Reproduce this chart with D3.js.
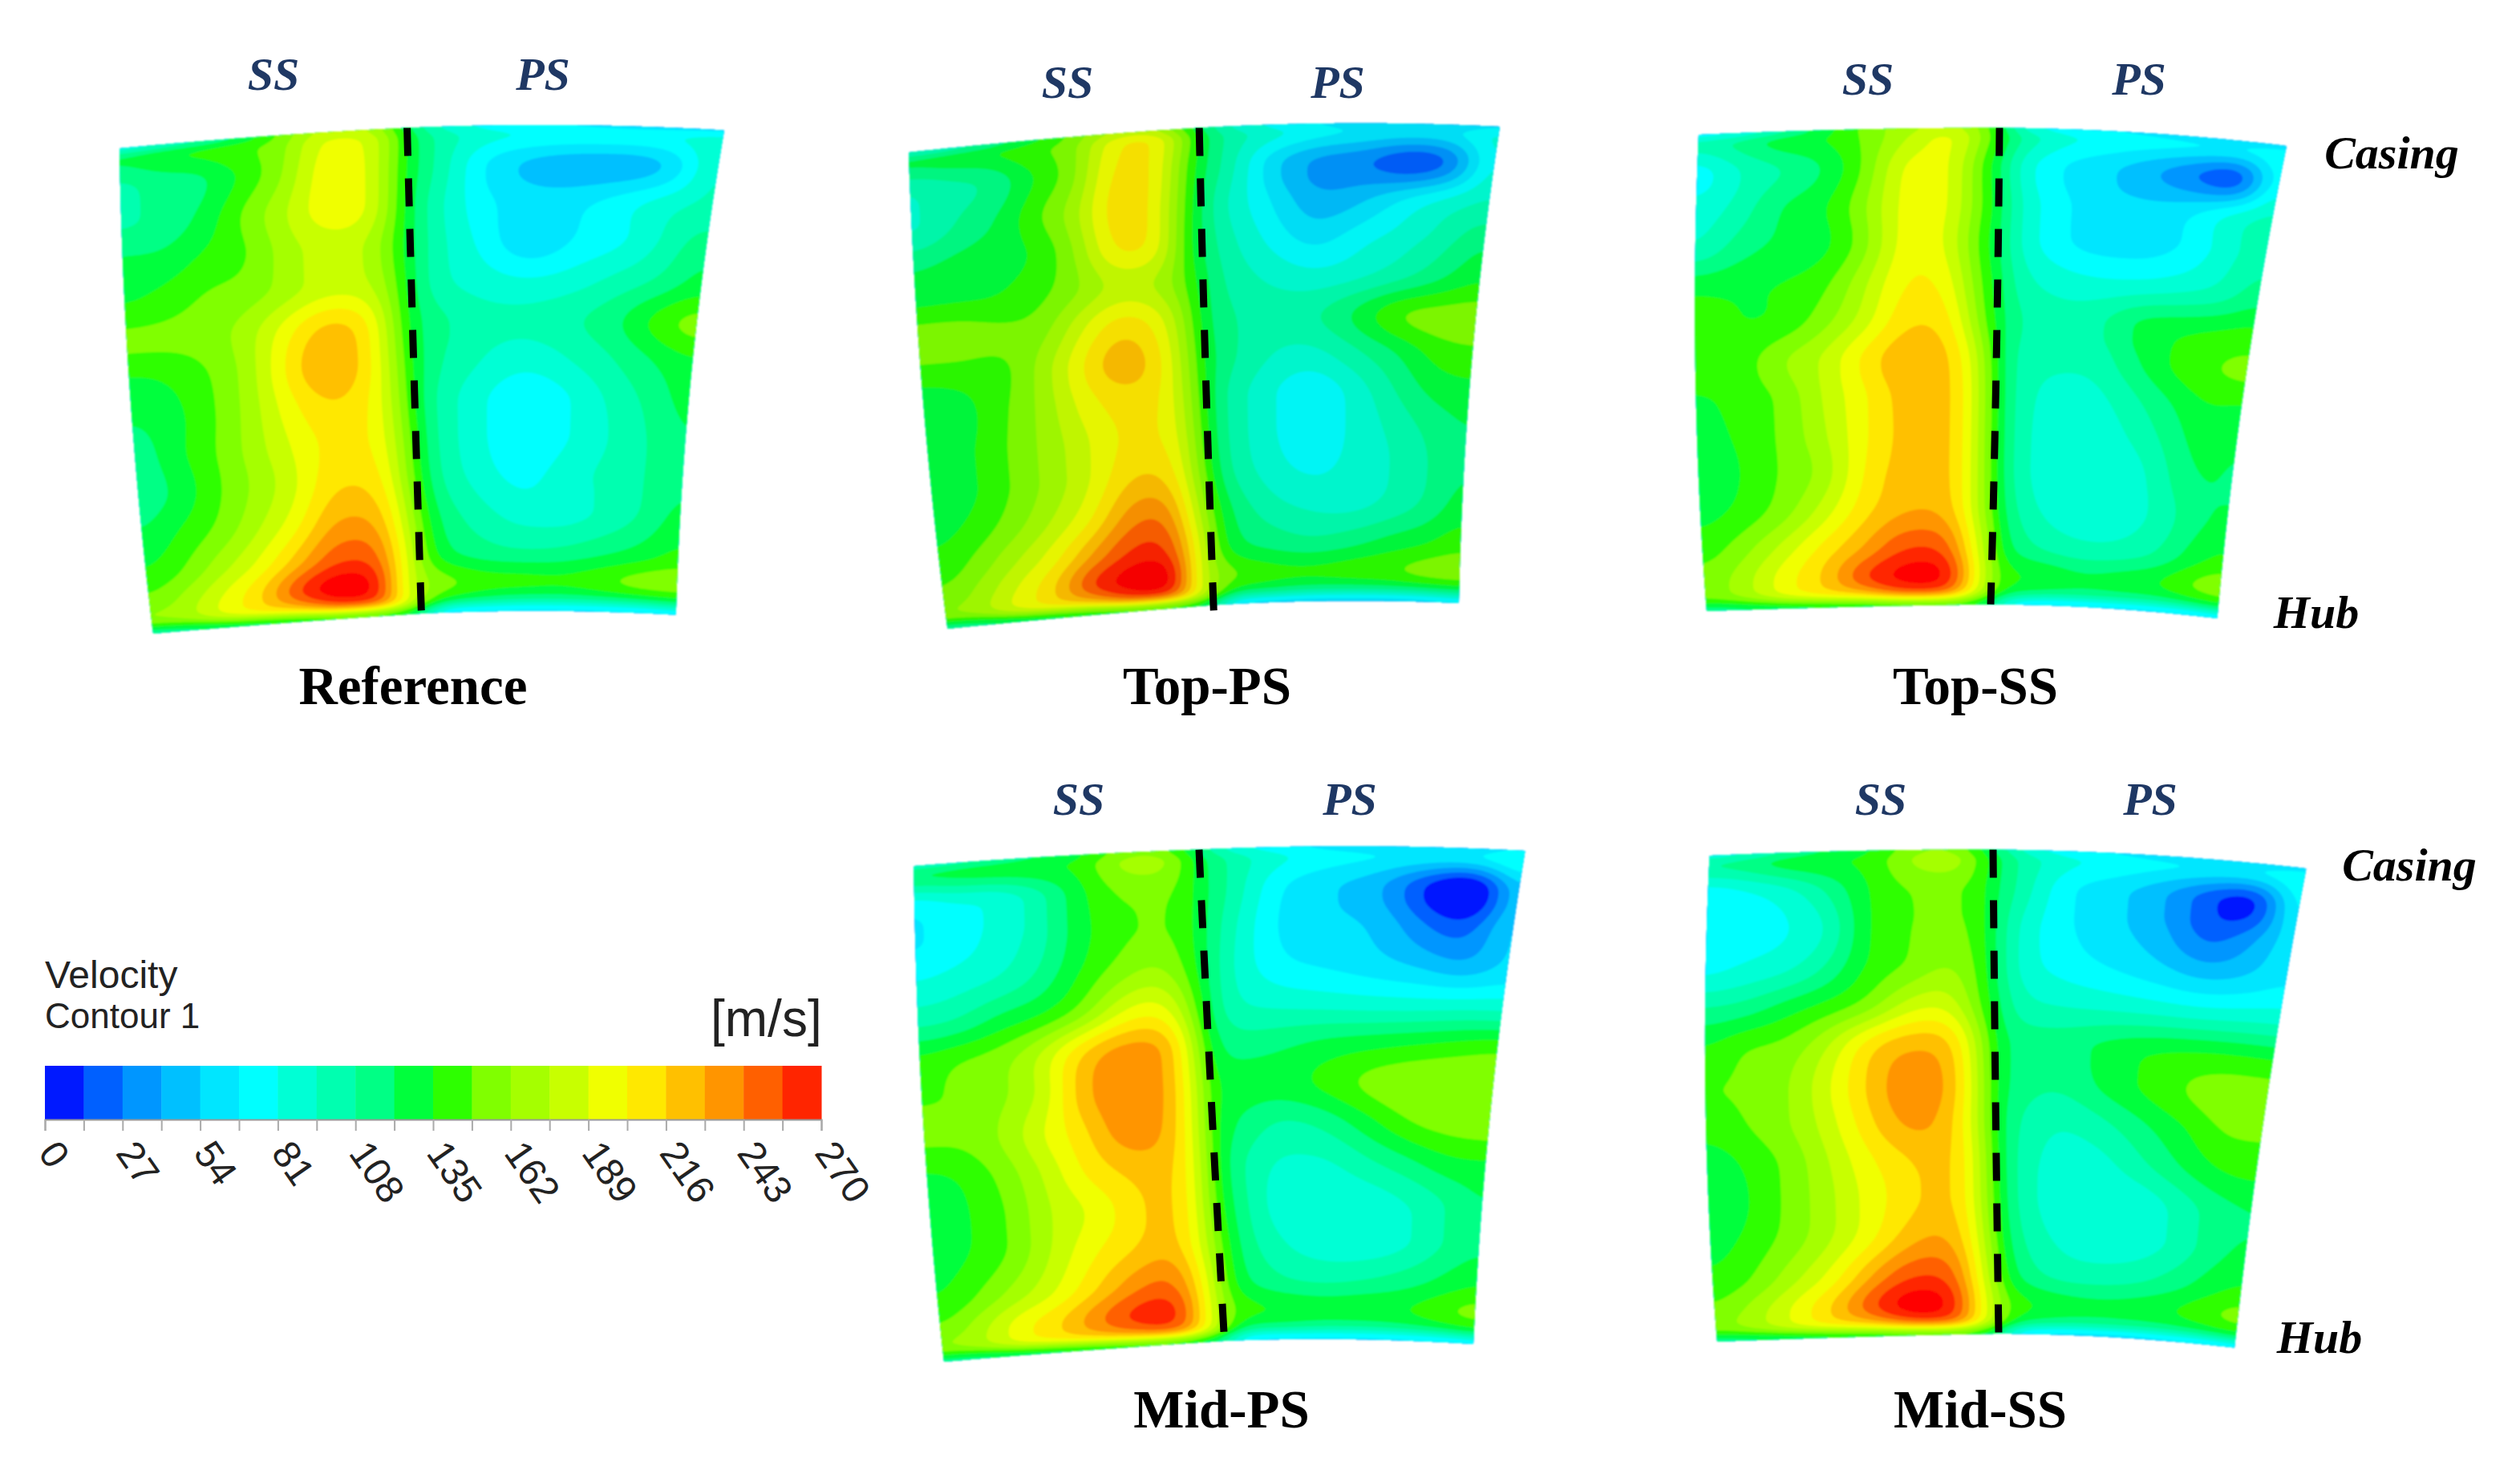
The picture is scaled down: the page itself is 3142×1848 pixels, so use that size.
<!DOCTYPE html>
<html lang="en">
  <head>
    <meta charset="utf-8">
    <title>Velocity contours</title>
    <script src="https://cdn.jsdelivr.net/npm/d3@7"></script>
    <style>
      body { margin: 0; background: #fff; }
      .side { font: italic bold 58px "Liberation Serif"; fill: #1f3864; text-anchor: middle; }
      .span { font: italic bold 58px "Liberation Serif"; fill: #000; text-anchor: middle; }
      .title { font: bold 67px "Liberation Serif"; fill: #000; text-anchor: middle; }
      .legend { font-family: "Liberation Sans"; fill: #222; }
    </style>
  </head>
  <body>
    <svg id="chart" width="3142" height="1848"></svg>
    <script>

      // grid stations: 0.5 on colPos is the dashed line, rowPos runs casing to hub
      var colPos = [0, .07, .14, .21, .28, .35, .42, .47, .5, .54, .62, .70, .78, .86, .93, 1];
      var rowPos = [0, .012, .08, .16, .24, .32, .40, .48, .56, .64, .72, .80, .88, .94, .975, 1];

      var tickValues = [0, 13.5, 27, 40.5, 54, 67.5, 81, 94.5, 108, 121.5, 135, 148.5, 162, 175.5, 189, 202.5, 216, 229.5, 243, 256.5, 270];
      var bandColors = ["#0019ff", "#0060ff", "#0096ff", "#00c0ff", "#00e6ff", "#00ffff", "#00ffd5", "#00ffb0", "#00ff85", "#00ff3c",
                        "#2dff00", "#80ff00", "#a5ff00", "#c8ff00", "#f0ff00", "#ffe800", "#ffc000", "#ff9500", "#ff6000", "#ff2500"];
      var peakColor = "#ff0000";

      var velReference = [
        [60, 70, 90, 110, 150, 175, 175, 150, 120, 90, 70, 60, 55, 50, 50, 50],
        [122, 132, 138, 145, 155, 190, 192, 165, 130, 105, 88, 82, 80, 80, 82, 88],
        [104, 114, 118, 138, 160, 198, 196, 162, 128, 108, 68, 50, 44, 44, 58, 100],
        [106, 112, 125, 150, 172, 198, 196, 158, 125, 100, 72, 60, 64, 76, 90, 100],
        [125, 125, 138, 146, 168, 182, 178, 150, 125, 100, 78, 56, 70, 80, 98, 118],
        [134, 140, 150, 154, 168, 184, 182, 155, 125, 100, 88, 82, 88, 100, 112, 130],
        [152, 152, 155, 168, 196, 220, 208, 160, 125, 112, 100, 98, 105, 118, 140, 155],
        [133, 137, 148, 168, 206, 232, 210, 165, 128, 110, 95, 86, 95, 108, 122, 134],
        [122, 130, 146, 168, 198, 216, 205, 170, 130, 105, 84, 70, 80, 98, 112, 128],
        [112, 130, 147, 168, 190, 208, 205, 175, 135, 105, 84, 68, 80, 95, 108, 122],
        [112, 125, 146, 165, 186, 215, 215, 180, 140, 108, 88, 76, 88, 98, 108, 120],
        [122, 137, 152, 174, 198, 232, 232, 190, 150, 118, 100, 88, 88, 98, 110, 128],
        [136, 150, 172, 194, 226, 256, 254, 198, 160, 128, 115, 110, 112, 120, 128, 140],
        [152, 168, 192, 216, 258, 282, 270, 195, 165, 155, 142, 140, 138, 146, 155, 158],
        [162, 170, 195, 205, 218, 246, 246, 195, 165, 130, 118, 112, 112, 116, 120, 125],
        [100, 105, 110, 115, 120, 125, 125, 125, 110, 60, 55, 55, 55, 55, 55, 60]
      ];

      var velTopPS = [
        [70, 80, 100, 120, 150, 170, 170, 140, 120, 90, 70, 60, 55, 50, 50, 55],
        [125, 130, 135, 145, 155, 195, 205, 165, 130, 105, 88, 75, 68, 65, 68, 85],
        [95, 105, 110, 135, 156, 208, 208, 155, 125, 105, 60, 36, 30, 14, 30, 90],
        [90, 108, 120, 144, 168, 212, 202, 150, 120, 95, 68, 44, 52, 70, 85, 98],
        [118, 125, 130, 136, 162, 206, 200, 145, 120, 100, 78, 62, 76, 88, 102, 120],
        [133, 134, 135, 143, 160, 182, 176, 150, 125, 105, 92, 85, 92, 105, 120, 135],
        [158, 158, 152, 154, 184, 210, 198, 160, 125, 110, 102, 105, 124, 148, 154, 156],
        [138, 140, 143, 166, 200, 226, 208, 165, 128, 112, 95, 90, 105, 122, 140, 145],
        [122, 130, 146, 166, 194, 210, 205, 170, 130, 105, 84, 70, 86, 108, 125, 130],
        [122, 132, 148, 166, 186, 206, 206, 175, 132, 105, 84, 70, 84, 98, 112, 122],
        [122, 132, 148, 166, 186, 214, 218, 180, 138, 108, 88, 78, 85, 95, 108, 122],
        [130, 140, 156, 176, 200, 235, 242, 190, 150, 120, 100, 92, 90, 100, 112, 130],
        [140, 155, 176, 198, 232, 260, 264, 202, 160, 128, 118, 112, 118, 128, 135, 145],
        [152, 168, 192, 216, 258, 278, 284, 198, 165, 150, 140, 138, 142, 146, 154, 158],
        [160, 170, 195, 205, 218, 246, 248, 195, 165, 125, 118, 112, 112, 114, 118, 122],
        [100, 105, 110, 115, 120, 125, 125, 125, 110, 60, 52, 50, 50, 50, 52, 58]
      ];

      var velTopSS = [
        [55, 65, 90, 125, 155, 170, 175, 160, 130, 80, 65, 60, 55, 50, 50, 50],
        [100, 112, 130, 135, 152, 175, 195, 165, 135, 105, 85, 78, 75, 72, 72, 78],
        [72, 95, 108, 122, 152, 196, 194, 150, 125, 88, 66, 56, 42, 26, 14, 85],
        [85, 100, 122, 132, 160, 198, 192, 150, 128, 92, 70, 58, 58, 66, 85, 100],
        [95, 115, 125, 130, 157, 200, 188, 145, 125, 92, 70, 62, 62, 72, 90, 105],
        [130, 132, 135, 143, 172, 205, 198, 150, 128, 100, 88, 84, 86, 92, 100, 118],
        [146, 135, 138, 156, 182, 215, 210, 160, 128, 108, 100, 105, 125, 130, 135, 140],
        [148, 140, 160, 176, 206, 228, 220, 180, 130, 105, 98, 100, 120, 138, 147, 152],
        [132, 140, 150, 176, 200, 224, 224, 185, 132, 105, 88, 90, 105, 122, 135, 132],
        [128, 137, 150, 172, 200, 222, 224, 185, 133, 105, 84, 84, 95, 112, 128, 122],
        [122, 135, 150, 166, 204, 224, 224, 185, 135, 105, 84, 83, 85, 105, 122, 120],
        [130, 140, 156, 182, 212, 230, 230, 185, 140, 110, 90, 86, 87, 100, 118, 125],
        [142, 158, 182, 208, 232, 258, 256, 197, 150, 120, 105, 98, 100, 110, 128, 140],
        [152, 170, 197, 218, 256, 276, 278, 203, 155, 137, 132, 124, 128, 134, 148, 158],
        [150, 165, 190, 205, 218, 244, 244, 190, 150, 125, 116, 114, 114, 114, 120, 128],
        [105, 110, 115, 118, 122, 125, 130, 130, 110, 70, 55, 55, 55, 55, 55, 60]
      ];

      var velMidPS = [
        [80, 85, 95, 110, 125, 145, 150, 130, 115, 80, 65, 55, 50, 45, 50, 60],
        [125, 130, 135, 135, 135, 162, 172, 150, 125, 105, 85, 75, 70, 68, 72, 85],
        [72, 82, 82, 100, 128, 150, 152, 148, 125, 108, 70, 56, 44, 10, -12, 60],
        [65, 75, 85, 100, 128, 145, 150, 145, 125, 100, 66, 58, 52, 28, 18, 62],
        [82, 88, 95, 110, 135, 155, 166, 148, 125, 95, 72, 66, 60, 52, 44, 60],
        [105, 110, 125, 135, 155, 188, 198, 165, 125, 98, 92, 90, 88, 88, 90, 92],
        [140, 148, 155, 176, 214, 236, 234, 185, 128, 115, 118, 125, 130, 135, 140, 145],
        [148, 150, 160, 180, 226, 240, 234, 190, 135, 128, 128, 138, 152, 160, 162, 160],
        [150, 150, 165, 190, 214, 240, 230, 190, 135, 122, 106, 112, 130, 148, 154, 156],
        [130, 138, 155, 180, 206, 220, 224, 190, 138, 112, 92, 92, 105, 118, 130, 132],
        [124, 135, 150, 176, 191, 210, 222, 190, 140, 115, 86, 84, 86, 95, 108, 122],
        [128, 137, 152, 178, 200, 215, 226, 190, 150, 118, 95, 86, 84, 92, 108, 120],
        [135, 150, 170, 190, 216, 240, 248, 202, 155, 125, 110, 105, 108, 115, 125, 135],
        [150, 170, 197, 214, 240, 262, 266, 203, 160, 140, 134, 130, 132, 134, 144, 154],
        [160, 172, 195, 205, 218, 232, 240, 195, 160, 118, 114, 110, 110, 114, 120, 128],
        [105, 105, 110, 115, 120, 125, 125, 120, 105, 60, 55, 55, 55, 55, 55, 60]
      ];

      var velMidSS = [
        [70, 80, 95, 115, 130, 150, 155, 135, 120, 85, 65, 58, 52, 50, 50, 50],
        [110, 118, 132, 135, 138, 162, 176, 150, 130, 105, 85, 78, 72, 70, 72, 80],
        [72, 80, 90, 110, 135, 150, 150, 148, 125, 105, 70, 58, 42, 16, 4, 82],
        [72, 75, 80, 95, 135, 148, 152, 148, 125, 92, 70, 58, 46, 22, 36, 66],
        [78, 85, 92, 110, 138, 150, 164, 150, 125, 90, 76, 68, 60, 50, 56, 68],
        [110, 115, 128, 140, 155, 182, 188, 155, 128, 100, 94, 92, 90, 88, 90, 92],
        [135, 148, 152, 173, 208, 226, 222, 175, 130, 115, 115, 125, 132, 135, 136, 135],
        [148, 150, 160, 186, 218, 240, 230, 180, 130, 115, 110, 125, 138, 150, 156, 156],
        [140, 148, 160, 182, 212, 234, 224, 180, 130, 108, 96, 105, 120, 135, 150, 150],
        [125, 138, 152, 175, 200, 216, 222, 185, 132, 105, 88, 90, 105, 122, 135, 138],
        [120, 135, 152, 172, 195, 212, 222, 185, 135, 105, 86, 84, 85, 100, 115, 122],
        [128, 140, 155, 175, 200, 226, 232, 190, 140, 110, 92, 85, 86, 98, 115, 125],
        [138, 150, 172, 196, 232, 258, 254, 197, 150, 120, 105, 102, 105, 115, 128, 138],
        [150, 168, 192, 218, 254, 280, 268, 203, 160, 140, 130, 126, 128, 134, 144, 154],
        [155, 170, 190, 205, 218, 242, 244, 195, 160, 125, 114, 112, 112, 114, 120, 128],
        [105, 108, 112, 118, 122, 125, 130, 130, 110, 65, 55, 52, 52, 55, 55, 60]
      ];

      // blade outlines in page pixels: left edge, dashed line, right edge (casing, mid, hub)
      var panels = [
        {name: "Reference", values: velReference, shade: 1,
         left: [[149, 185], [162, 487], [191, 790]],
         dash: [[507.6, 159.5], [516, 462], [525.4, 765]],
         right: [[903, 162.5], [862, 464.5], [842.8, 766.6]],
         dashEnd: 1, ssX: 341, psX: 677, labelY: 112, titleX: 515, titleY: 878},
        {name: "Top-PS", values: velTopPS, shade: .96,
         left: [[1133, 190], [1150, 487], [1181.4, 784]],
         dash: [[1495.2, 159.5], [1503, 457], [1513, 754.5]],
         right: [[1870, 158], [1834.5, 455], [1819, 752]],
         dashEnd: 1.02, ssX: 1331, psX: 1668, labelY: 122, titleX: 1505, titleY: 878},
        {name: "Top-SS", values: velTopSS, shade: 1,
         left: [[2118, 168], [2114, 465], [2128, 762]],
         dash: [[2493, 159.5], [2489, 456.5], [2482, 753.6]],
         right: [[2851, 182], [2799, 476.5], [2764.5, 771]],
         dashEnd: 1, ssX: 2329, psX: 2667, labelY: 118, titleX: 2463, titleY: 878},
        {name: "Mid-PS", values: velMidPS, shade: 1,
         left: [[1139.4, 1080], [1150.6, 1388.6], [1177, 1698]],
         dash: [[1495, 1059.5], [1510, 1366], [1526.6, 1672]],
         right: [[1901.6, 1061], [1860, 1368.7], [1837, 1676]],
         dashEnd: .987, ssX: 1345, psX: 1683, labelY: 1016, titleX: 1523, titleY: 1780},
        {name: "Mid-SS", values: velMidSS, shade: 1,
         left: [[2131.6, 1067], [2126.5, 1369.5], [2141, 1673]],
         dash: [[2485, 1059.5], [2488, 1361], [2492, 1663]],
         right: [[2875.5, 1083], [2824.5, 1381.7], [2786, 1680.5]],
         dashEnd: 1, ssX: 2345, psX: 2681, labelY: 1016, titleX: 2469, titleY: 1780}
      ];

      var spanLabels = [
        {text: "Casing", x: 2982, y: 210},
        {text: "Hub", x: 2888, y: 783},
        {text: "Casing", x: 3004, y: 1098},
        {text: "Hub", x: 2892, y: 1687}
      ];

      var svg = d3.select("#chart");

      var defs = svg.append("defs");
      defs.append("filter").attr("id", "soft")
          .attr("x", "-2%").attr("y", "-2%").attr("width", "104%").attr("height", "104%")
          .append("feGaussianBlur").attr("stdDeviation", 1.1);

      // one band per 13.5 m/s, the last threshold is the peak above the legend
      var thresholds = [-100].concat(tickValues.slice(1));
      var color = d3.scaleThreshold()
          .domain(tickValues.slice(1))
          .range(bandColors.concat([peakColor]));

      function through3(p, t) {
        var a = (1 - t) * (1 - 2 * t), b = 4 * t * (1 - t), c = t * (2 * t - 1);
        return [a * p[0][0] + b * p[1][0] + c * p[2][0], a * p[0][1] + b * p[1][1] + c * p[2][1]];
      }

      function warp(panel, u, v) {
        var a, b, s, bow;
        if (u < .5) {
          a = through3(panel.left, v); b = through3(panel.dash, v); s = u / .5;
          bow = -2 + v;
        } else {
          a = through3(panel.dash, v); b = through3(panel.right, v); s = (u - .5) / .5;
          bow = -5 + v;
        }
        return [a[0] + (b[0] - a[0]) * s, a[1] + (b[1] - a[1]) * s + 4 * s * (1 - s) * bow];
      }

      function cubic(p0, p1, p2, p3, t) {
        var r = p1 + .5 * t * (p2 - p0 + t * (2 * p0 - 5 * p1 + 4 * p2 - p3 + t * (3 * (p1 - p2) + p3 - p0)));
        return Math.max(Math.min(p1, p2), Math.min(Math.max(p1, p2), r));
      }

      function locate(pos, t) {
        var i = Math.min(pos.length - 2, Math.max(0, d3.bisectRight(pos, t) - 1));
        return [i, (t - pos[i]) / (pos[i + 1] - pos[i])];
      }

      // sample the read grid onto a fine lattice so d3.contours gets smooth bands
      function fineField(values, n, m) {
        var field = new Float64Array(n * m);
        for (var j = 0; j < m; j++) {
          var rl = locate(rowPos, (j + .5) / m);
          for (var i = 0; i < n; i++) {
            var cl = locate(colPos, (i + .5) / n);
            var vals = [-1, 0, 1, 2].map(function(dr) {
              var row = values[Math.max(0, Math.min(rowPos.length - 1, rl[0] + dr))];
              var at = function(k) { return row[Math.max(0, Math.min(colPos.length - 1, k))]; };
              return cubic(at(cl[0] - 1), at(cl[0]), at(cl[0] + 1), at(cl[0] + 2), cl[1]);
            });
            field[j * n + i] = cubic(vals[0], vals[1], vals[2], vals[3], rl[1]);
          }
        }
        d3.blur2({data: field, width: n, height: m}, 9, 3);
        return field;
      }

      var n = 400, m = 400;
      var contours = d3.contours().size([n, m]).thresholds(thresholds);

      panels.forEach(function(panel) {
        var g = svg.append("g").attr("class", "panel");
        var path = d3.geoPath(d3.geoTransform({
          point: function(x, y) {
            var p = warp(panel, x / n, y / m);
            this.stream.point(p[0], p[1]);
          }
        }));

        g.append("g").attr("filter", "url(#soft)")
          .selectAll("path")
          .data(contours(fineField(panel.values, n, m)))
          .join("path")
          .attr("d", path)
          .attr("fill", function(d) {
            var c = d3.rgb(color(d.value + .01));
            return d3.rgb(c.r * panel.shade, c.g * panel.shade, c.b * panel.shade).formatHex();
          })
          .attr("stroke", "none");

        var dashLine = d3.range(0, 1.001, .05).map(function(t) {
          return through3(panel.dash, t * panel.dashEnd);
        });
        g.append("path")
          .attr("d", d3.line()(dashLine))
          .attr("fill", "none")
          .attr("stroke", "#000")
          .attr("stroke-width", 9)
          .attr("stroke-dasharray", "35 28");

        g.append("text").attr("class", "side").attr("x", panel.ssX).attr("y", panel.labelY).text("SS");
        g.append("text").attr("class", "side").attr("x", panel.psX).attr("y", panel.labelY).text("PS");
        g.append("text").attr("class", "title").attr("x", panel.titleX).attr("y", panel.titleY).text(panel.name);
      });

      svg.selectAll(".span").data(spanLabels).join("text")
          .attr("class", "span")
          .attr("x", function(d) { return d.x; })
          .attr("y", function(d) { return d.y; })
          .text(function(d) { return d.text; });

      // legend
      var legendX = d3.scaleLinear().domain([0, 270]).range([56, 1024]);
      var legend = svg.append("g").attr("class", "legend");

      legend.selectAll("rect").data(tickValues.slice(0, -1)).join("rect")
          .attr("x", function(d) { return legendX(d); })
          .attr("y", 1329)
          .attr("width", function(d) { return legendX(d + 13.5) - legendX(d) + .5; })
          .attr("height", 67)
          .attr("fill", function(d) { return color(d + .01); });

      var axis = legend.append("g")
          .attr("transform", "translate(0,1396)")
          .call(d3.axisBottom(legendX)
            .tickValues(tickValues)
            .tickSize(14)
            .tickFormat(function(d) { return d % 27 === 0 ? d : ""; }));

      axis.select(".domain").attr("stroke", "#999").attr("stroke-width", 2);
      axis.selectAll(".tick line").attr("stroke", "#aaa").attr("stroke-width", 2);
      axis.selectAll(".tick text")
          .attr("font-family", "Liberation Sans")
          .attr("font-size", 48)
          .attr("fill", "#222")
          .attr("text-anchor", "start")
          .attr("dy", 0)
          .attr("transform", "translate(-10,42) rotate(55)")
          .attr("x", 0)
          .attr("y", 0);

      legend.append("text").attr("x", 56).attr("y", 1232).attr("font-size", 48).text("Velocity");
      legend.append("text").attr("x", 56).attr("y", 1282).attr("font-size", 44).text("Contour 1");
      legend.append("text").attr("x", 886).attr("y", 1292).attr("font-size", 64).text("[m/s]");

    </script>
  </body>
</html>
